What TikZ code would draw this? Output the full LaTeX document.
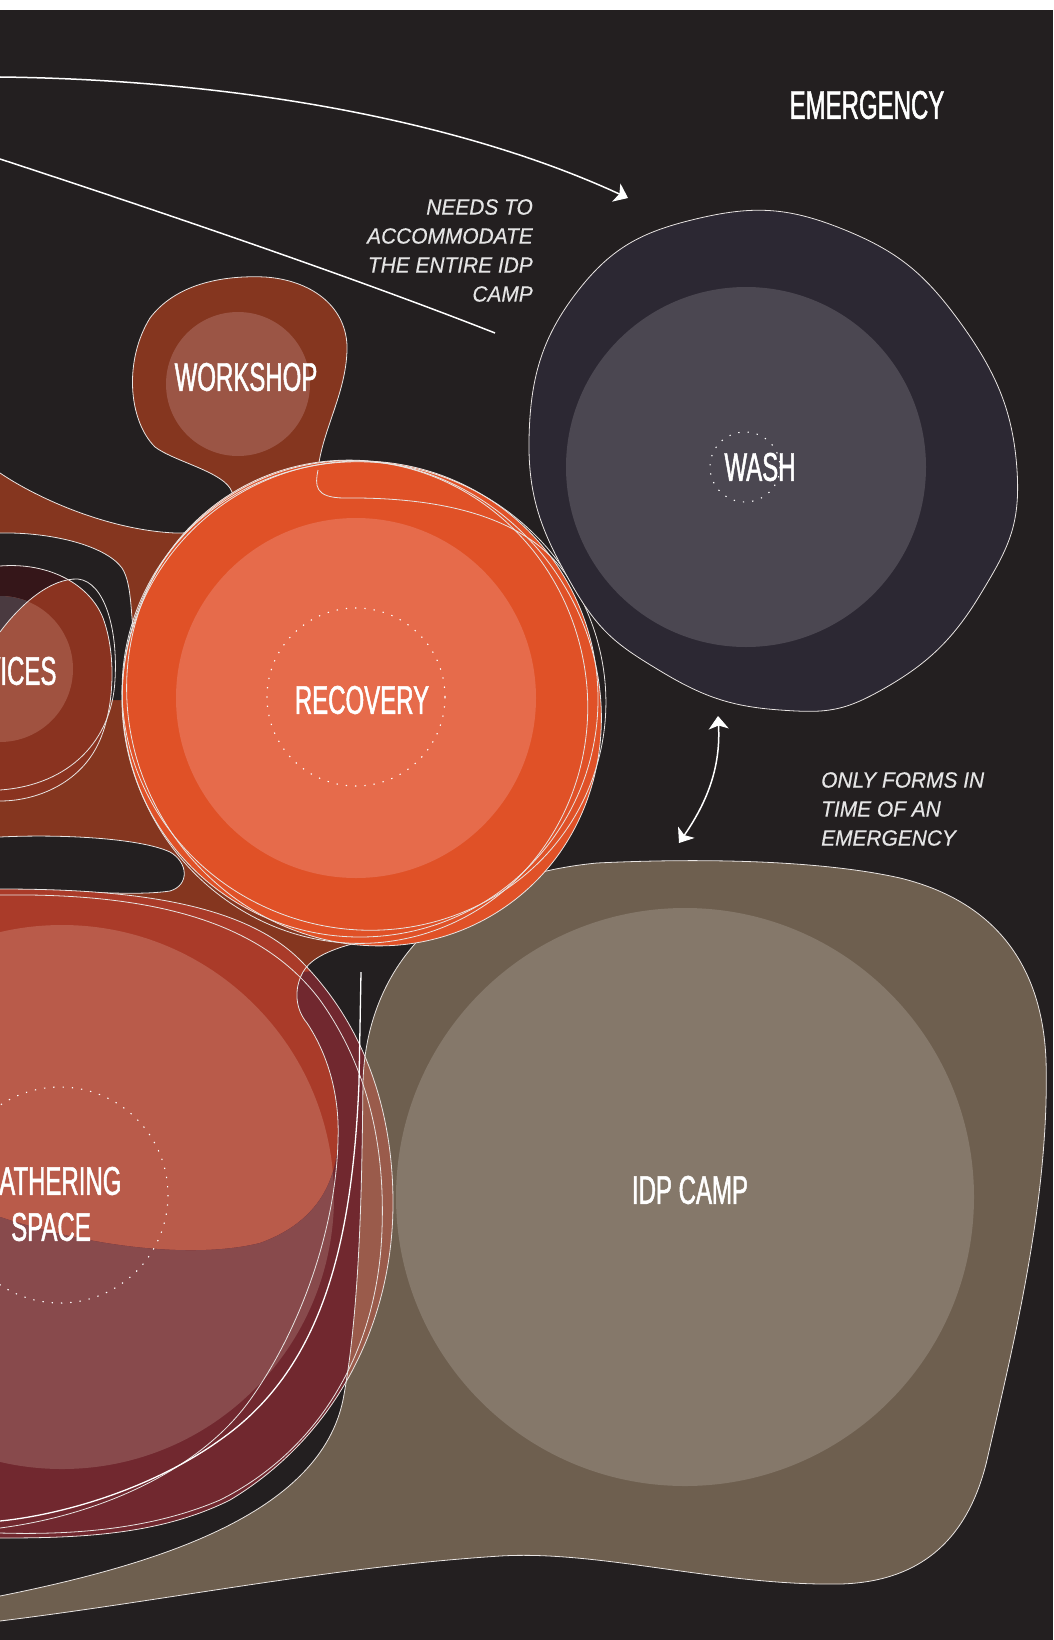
\documentclass[tikz,border=0pt]{standalone}
\usepackage{fontspec}
\setmainfont{Liberation Sans}
\newfontfamily\labelfont{Liberation Sans}[FakeStretch=0.6,FakeBold=1.2]
\newfontfamily\notefont{Liberation Sans}[FakeStretch=0.95,FakeBold=0.4]
\usetikzlibrary{arrows.meta}
\definecolor{bgc}{HTML}{231F20}
\definecolor{brownA}{HTML}{85361F}
\definecolor{workin}{HTML}{9B5545}
\definecolor{recout}{HTML}{E05127}
\definecolor{recin}{HTML}{E66B4B}
\definecolor{washout}{HTML}{2C2833}
\definecolor{washin}{HTML}{4B4751}
\definecolor{idpout}{HTML}{6E5F4F}
\definecolor{idpin}{HTML}{85786A}
\definecolor{idpmix}{HTML}{9A5B4B}
\definecolor{gathout}{HTML}{AA3B29}
\definecolor{gathin}{HTML}{B95B4A}
\definecolor{maroonc}{HTML}{71282F}
\definecolor{maroonin}{HTML}{884A4C}
\definecolor{servout}{HTML}{8A3320}
\definecolor{servdark}{HTML}{351619}
\definecolor{servin}{HTML}{A05240}
\definecolor{servmix}{HTML}{4A3A40}
\definecolor{linec}{HTML}{E8E4E2}
\begin{document}
\begin{tikzpicture}[x=1pt,y=-1pt,
  outl/.style={draw=linec, line width=0.8pt},
  dotc/.style={draw=white, line width=1.1pt, dash pattern=on 1.3pt off 8pt},
  lbl/.style={text=white, font=\labelfont\fontsize{40}{46}\selectfont, inner sep=0pt},
  note/.style={text=white!90!black, font=\notefont\itshape\fontsize{22}{29}\selectfont, inner sep=0pt},
  arr/.style={draw=white, line width=1.5pt},
  chev/.tip={Stealth[length=13pt,width=20pt,inset=3.5pt,line width=1pt]}]
\useasboundingbox (0,0) rectangle (1053,1640);
\fill[white] (0,0) rectangle (1053,10);
\fill[bgc] (0,10) rectangle (1053,1640);
\begin{scope}
\clip (0,10) rectangle (1053,1640);

% ---------- brown network (workshop + links) ----------
\fill[brownA] (0,473) .. controls (40,500) and (110,530) .. (175,533)
  .. controls (215,534) and (240,515) .. (232,492)
  .. controls (225,472) and (175,462) .. (155,447)
  .. controls (128,420) and (124,360) .. (150,318)
  .. controls (175,285) and (220,275) .. (265,277)
  .. controls (310,280) and (345,305) .. (347,345)
  .. controls (348,390) and (322,430) .. (318,470)
  -- (420,520) -- (480,800) -- (450,930) -- (410,933)
  .. controls (360,940) and (315,950) .. (303,972)
  -- (297,990) -- (250,1010) -- (-10,1010) -- (-10,473) -- cycle;
\draw[outl] (0,473) .. controls (40,500) and (110,530) .. (175,533)
  .. controls (215,534) and (240,515) .. (232,492)
  .. controls (225,472) and (175,462) .. (155,447)
  .. controls (128,420) and (124,360) .. (150,318)
  .. controls (175,285) and (220,275) .. (265,277)
  .. controls (310,280) and (345,305) .. (347,345)
  .. controls (348,390) and (322,430) .. (318,470);

% black hole B
\fill[bgc] (0,533) .. controls (50,532) and (105,545) .. (122,568)
  .. controls (133,585) and (130,620) .. (135,638)
  .. controls (137,645) and (141,648) .. (145,649)
  -- (140,700) -- (-10,700) -- (-10,533) -- cycle;
\draw[outl] (0,533) .. controls (50,532) and (105,545) .. (122,568)
  .. controls (133,585) and (130,620) .. (135,638)
  .. controls (137,645) and (141,648) .. (150,650);
% black hole C
\fill[bgc] (0,837) .. controls (60,834) and (140,838) .. (170,852)
  .. controls (188,862) and (190,885) .. (170,891)
  .. controls (130,897) and (60,889) .. (0,890) -- (-10,890) -- (-10,837) -- cycle;
\draw[outl] (0,837) .. controls (60,834) and (140,838) .. (170,852)
  .. controls (188,862) and (190,885) .. (170,891)
  .. controls (130,897) and (60,889) .. (0,890);

% ---------- services ----------
\fill[servout] (0,566) .. controls (50,562) and (90,585) .. (103,618)
  .. controls (117,655) and (115,715) .. (95,750)
  .. controls (75,785) and (35,801) .. (0,801) -- (-10,801) -- (-10,566) -- cycle;
\begin{scope}
  \clip (0,566) .. controls (50,562) and (90,585) .. (103,618) -- (103,700) -- (-10,700) -- (-10,566) -- cycle;
  \fill[servdark] (-10,560) -- (80,560) -- (78,579)
    .. controls (50,578) and (20,605) .. (0,632) -- (-10,645) -- cycle;
\end{scope}
\fill[servin] (0,669) circle (73);
\begin{scope}
  \clip (0,669) circle (73);
  \fill[servmix] (-10,560) -- (80,560) -- (78,579)
    .. controls (50,578) and (20,605) .. (0,632) -- (-10,645) -- cycle;
\end{scope}
\draw[outl] (0,566) .. controls (50,562) and (90,585) .. (103,618)
  .. controls (117,655) and (115,715) .. (95,750)
  .. controls (75,785) and (35,801) .. (0,801);
\draw[outl] (0,632) .. controls (20,605) and (50,578) .. (78,579)
  .. controls (105,582) and (118,630) .. (115,680)
  .. controls (112,740) and (70,785) .. (0,790);
\node[lbl] (services) at (-4,671) {SERVICES};

% ---------- gathering space ----------
\fill[gathout] (0,889) .. controls (120,889) and (240,900) .. (300,960)
  .. controls (370,1030) and (393,1120) .. (393,1203)
  .. controls (393,1330) and (330,1440) .. (230,1500)
  .. controls (160,1535) and (80,1538) .. (0,1538) -- (-20,1538) -- (-20,889) -- cycle;
\fill[gathin] (62,1197) circle (272);
\begin{scope}
  \clip (0,889) .. controls (120,889) and (240,900) .. (300,960)
  .. controls (370,1030) and (393,1120) .. (393,1203)
  .. controls (393,1330) and (330,1440) .. (230,1500)
  .. controls (160,1535) and (80,1538) .. (0,1538) -- (-20,1538) -- (-20,889) -- cycle;
  \clip (303,972) .. controls (293,990) and (296,1010) .. (307,1023)
    .. controls (325,1050) and (340,1090) .. (338,1140)
    .. controls (336,1190) and (310,1225) .. (260,1243)
    .. controls (200,1258) and (100,1250) .. (0,1217)
    -- (-20,1210) -- (-20,1600) -- (420,1600) -- (420,960) -- cycle;
  \fill[maroonc] (-20,900) rectangle (420,1600);
  \fill[maroonin] (62,1197) circle (272);
\end{scope}

% ---------- IDP camp ----------
\fill[idpout] (597,863) .. controls (700,858) and (820,860) .. (900,878)
  .. controls (990,900) and (1042,960) .. (1046,1060)
  .. controls (1050,1200) and (1012,1350) .. (987,1460)
  .. controls (968,1540) and (920,1582) .. (840,1584)
  .. controls (720,1586) and (600,1550) .. (500,1556)
  .. controls (330,1567) and (170,1600) .. (0,1621) -- (0,1596)
  .. controls (170,1562) and (320,1510) .. (343,1400)
  .. controls (362,1300) and (362,1150) .. (363,1083)
  .. controls (365,990) and (420,880) .. (597,863) -- cycle;
\begin{scope}
  \clip (0,889) .. controls (120,889) and (240,900) .. (300,960)
  .. controls (370,1030) and (393,1120) .. (393,1203)
  .. controls (393,1330) and (330,1440) .. (230,1500)
  .. controls (160,1535) and (80,1538) .. (0,1538) -- (-20,1538) -- (-20,889) -- cycle;
  \fill[idpmix] (343,1400) .. controls (362,1300) and (362,1150) .. (363,1083)
  .. controls (365,990) and (420,880) .. (597,863) -- (600,1450) -- cycle;
\end{scope}
\fill[idpin] (685,1197) circle (289);
\draw[outl] (597,863) .. controls (700,858) and (820,860) .. (900,878)
  .. controls (990,900) and (1042,960) .. (1046,1060)
  .. controls (1050,1200) and (1012,1350) .. (987,1460)
  .. controls (968,1540) and (920,1582) .. (840,1584)
  .. controls (720,1586) and (600,1550) .. (500,1556)
  .. controls (330,1567) and (170,1600) .. (0,1621);
\draw[outl] (0,1596) .. controls (170,1562) and (320,1510) .. (343,1400)
  .. controls (362,1300) and (362,1150) .. (363,1083)
  .. controls (365,990) and (420,880) .. (597,863);
\node[lbl] (idp) at (690,1190) {IDP CAMP};

% gathering outlines & details
\draw[outl] (0,889) .. controls (120,889) and (240,900) .. (300,960)
  .. controls (370,1030) and (393,1120) .. (393,1203)
  .. controls (393,1330) and (330,1440) .. (230,1500)
  .. controls (160,1535) and (80,1538) .. (0,1538);
\draw[outl] (0,895) .. controls (150,893) and (260,920) .. (320,1000)
  .. controls (370,1070) and (385,1150) .. (382,1230)
  .. controls (378,1350) and (320,1450) .. (220,1500)
  .. controls (150,1530) and (70,1535) .. (0,1533);
\draw[outl] (410,933) .. controls (360,940) and (315,950) .. (303,972)
  .. controls (293,990) and (296,1010) .. (307,1023)
  .. controls (325,1050) and (340,1090) .. (338,1140)
  .. controls (336,1230) and (300,1330) .. (250,1400)
  .. controls (200,1470) and (100,1515) .. (0,1528);
\draw[draw=white, line width=1.3pt] (361,972) -- (359,1083)
  .. controls (352,1250) and (320,1370) .. (220,1440)
  .. controls (150,1490) and (60,1515) .. (0,1521);
\draw[dotc] (60,1195) circle (108);
\node[lbl, align=center] (gathering) at (51,1204) {GATHERING\\SPACE};

% ---------- recovery ----------
\fill[recout] (360,699) circle (238);
\fill[recout, rotate around={-55:(364,703)}] (364,703) ellipse [x radius=248, y radius=232];
\fill[recin] (356,698) circle (180);
\draw[dotc] (356,697) circle (89);
\draw[outl] (360,699) circle (238);
\draw[outl, rotate around={-20:(364,696)}] (364,696) ellipse [x radius=243, y radius=233];
\draw[outl, rotate around={15:(355,702)}] (355,702) ellipse [x radius=232, y radius=242];
\draw[outl, rotate around={-55:(364,703)}] (364,703) ellipse [x radius=248, y radius=232];
\draw[outl] (318,470) .. controls (315,485) and (314,498) .. (345,498)
  .. controls (450,497) and (540,520) .. (575,590);
\node[lbl] (recovery) at (362,700) {RECOVERY};

% ---------- workshop ----------
\fill[workin] (238,384) circle (72);
\node[lbl] (workshop) at (246,377) {WORKSHOP};

% ---------- wash ----------
\fill[washout, draw=linec, line width=0.8pt] plot[smooth cycle, tension=0.75] coordinates {(1017,470) (980,595) (885,688) (780,710) (662,672) (572,585) (529,440) (577,292) (700,218) (845,230) (962,325)};
\fill[washin] (746,467) circle (180);
\draw[dotc] (745,467) circle (35);
\node[lbl] (wash) at (760,467) {WASH};

% ---------- arrows and notes ----------
\coordinate (a1s) at (0,77);
\coordinate (a1e) at (628,198);
\draw[arr, -chev] (a1s) .. controls (250,80) and (470,125) .. (a1e);
\coordinate (l2s) at (0,159);
\coordinate (l2e) at (495,333);
\draw[arr] (l2s) .. controls (180,218) and (360,280) .. (l2e);
\coordinate (d1) at (679,843);
\coordinate (d2) at (718,716);
\draw[arr, chev-chev] (d1) .. controls (705,805) and (721,770) .. (d2);

\node[lbl] (emergency) at (867,105) {EMERGENCY};
\node[note, align=right, anchor=north east] (needs) at (533,199) {NEEDS TO\\ACCOMMODATE\\THE ENTIRE IDP\\CAMP};
\node[note, align=left, anchor=north west] (only) at (821,772) {ONLY FORMS IN\\TIME OF AN\\EMERGENCY};
\end{scope}
\end{tikzpicture}
\end{document}
